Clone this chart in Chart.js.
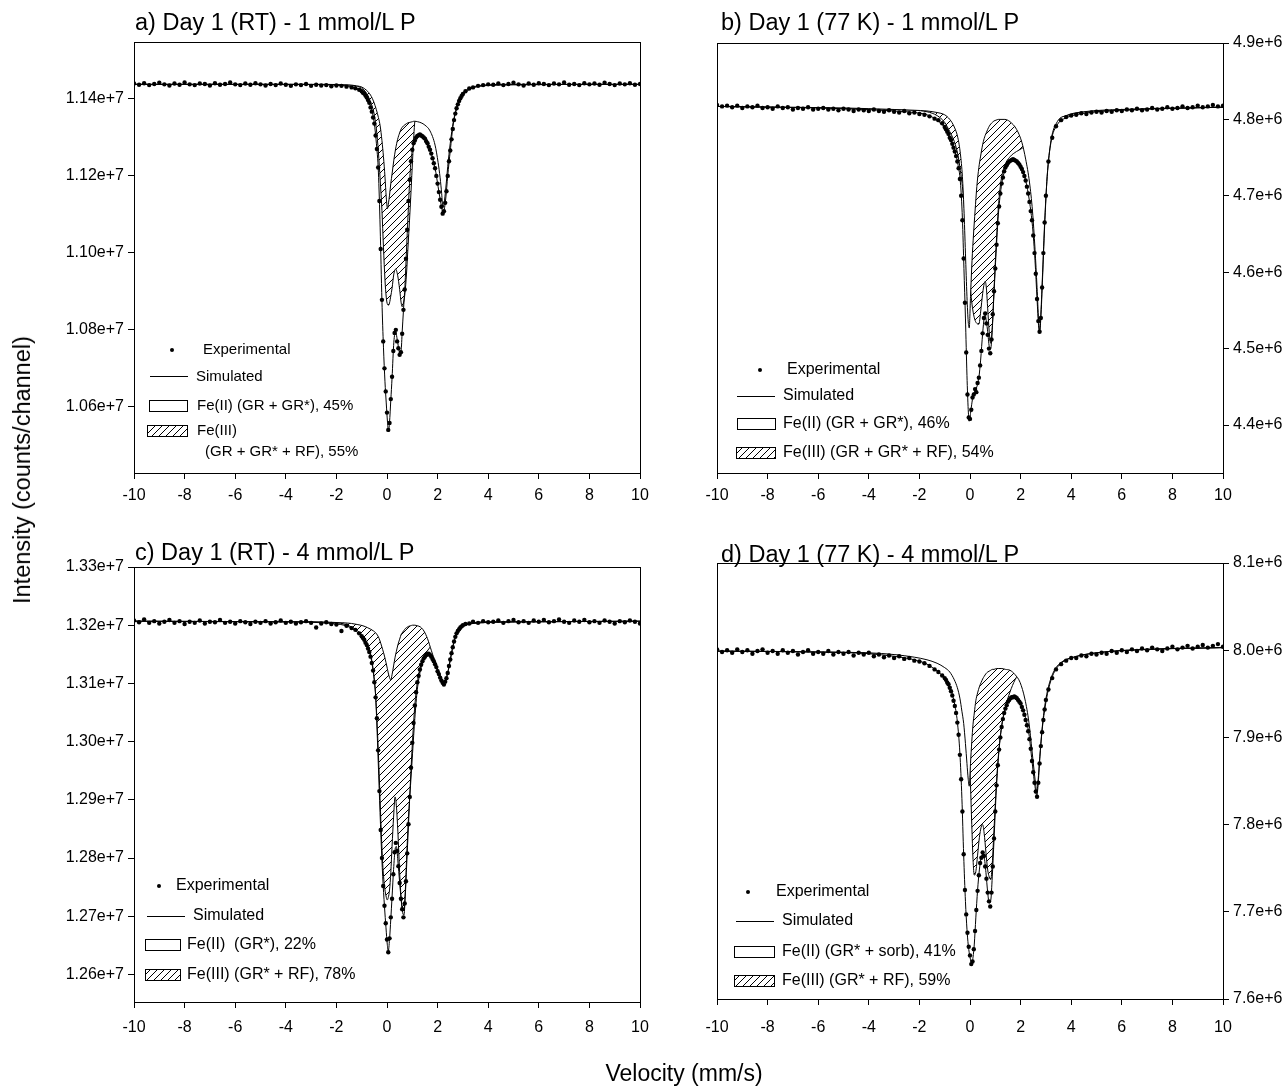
<!DOCTYPE html>
<html><head><meta charset="utf-8">
<script src="https://cdn.jsdelivr.net/npm/chart.js@4.4.1/dist/chart.umd.min.js"></script>
<style>
html,body{margin:0;padding:0;background:#fff;}
#wrap{position:relative;width:1287px;height:1086px;overflow:hidden;font-family:"Liberation Sans",Arial,Helvetica,sans-serif;color:#000;}
canvas{position:absolute;left:0;top:0;}
.t{position:absolute;font-size:23.5px;line-height:22px;white-space:nowrap;}
.yt{position:absolute;font-size:23.5px;line-height:22px;white-space:nowrap;transform:translate(-50%,-50%) rotate(-90deg);}
.xt{position:absolute;font-size:23px;line-height:22px;white-space:nowrap;transform:translate(-50%,-50%);}
</style></head>
<body>
<div id="wrap">
<canvas id="ca" width="1287" height="1086"></canvas>
<canvas id="cb" width="1287" height="1086"></canvas>
<canvas id="cc" width="1287" height="1086"></canvas>
<canvas id="cd" width="1287" height="1086"></canvas>
<div class="t" id="ta" style="left:135px;top:11px"></div>
<div class="t" id="tb" style="left:721px;top:11px"></div>
<div class="t" id="tc" style="left:135px;top:541px"></div>
<div class="t" id="td" style="left:721px;top:543px"></div>
<div class="yt" id="ytitle" style="left:22px;top:470px"></div>
<div class="xt" id="xtitle" style="left:684px;top:1073px"></div>
</div>
<script>
// ---------------- DATA ----------------
const panelTitles = ["a) Day 1 (RT) - 1 mmol/L P", "b) Day 1 (77 K) - 1 mmol/L P", "c) Day 1 (RT) - 4 mmol/L P", "d) Day 1 (77 K) - 4 mmol/L P"];
const yAxisTitle = "Intensity (counts/channel)";
const xAxisTitle = "Velocity (mm/s)";
const velTicks = [-10, -8, -6, -4, -2, 0, 2, 4, 6, 8, 10];
// intensity values are in units of 1e6 counts/channel
const yTicksA = [10.6, 10.8, 11.0, 11.2, 11.4];
const yTicksB = [4.4, 4.5, 4.6, 4.7, 4.8, 4.9];
const yTicksC = [12.6, 12.7, 12.8, 12.9, 13.0, 13.1, 13.2, 13.3];
const yTicksD = [7.6, 7.7, 7.8, 7.9, 8.0, 8.1];

const legendA = ["Experimental", "Simulated", "Fe(II) (GR + GR*), 45%", "Fe(III)", "(GR + GR* + RF), 55%"];
const legendB = ["Experimental", "Simulated", "Fe(II) (GR + GR*), 46%", "Fe(III) (GR + GR* + RF), 54%"];
const legendC = ["Experimental", "Simulated", "Fe(II)  (GR*), 22%", "Fe(III) (GR* + RF), 78%"];
const legendD = ["Experimental", "Simulated", "Fe(II) (GR* + sorb), 41%", "Fe(III) (GR* + RF), 59%"];

// channel velocities of the experimental points (mm/s)
const velocity = [
 -10, -9.8, -9.6, -9.4, -9.2, -9, -8.8, -8.6, -8.4, -8.2,
 -8, -7.8, -7.6, -7.4, -7.2, -7, -6.8, -6.6, -6.4, -6.2,
 -6, -5.8, -5.6, -5.4, -5.2, -5, -4.8, -4.6, -4.4, -4.2,
 -4, -3.8, -3.6, -3.4, -3.2, -3, -2.8, -2.6, -2.4, -2.2,
 -2, -1.8, -1.6, -1.4, -1.25, -1.1,
 -1, -0.95, -0.9, -0.85, -0.8, -0.75, -0.7, -0.65, -0.6, -0.55,
 -0.5, -0.45, -0.4, -0.35, -0.3, -0.25, -0.2, -0.15, -0.1, -0.05,
 0, 0.05, 0.1, 0.15, 0.2, 0.25, 0.3, 0.35, 0.4, 0.45,
 0.5, 0.55, 0.6, 0.65, 0.7, 0.75, 0.8, 0.85, 0.9, 0.95,
 1, 1.05, 1.1, 1.15, 1.2, 1.25, 1.3, 1.35, 1.4, 1.45,
 1.5, 1.55, 1.6, 1.65, 1.7, 1.75, 1.8, 1.85, 1.9, 1.95,
 2, 2.05, 2.1, 2.15, 2.2, 2.25, 2.3, 2.35, 2.4, 2.45,
 2.5, 2.55, 2.6, 2.65, 2.7, 2.75, 2.8, 2.85, 2.9, 2.95,
 3,
 3.1, 3.25, 3.4, 3.6, 3.8, 4,
 4.2, 4.4, 4.6, 4.8, 5, 5.2, 5.4, 5.6, 5.8, 6,
 6.2, 6.4, 6.6, 6.8, 7, 7.2, 7.4, 7.6, 7.8, 8,
 8.2, 8.4, 8.6, 8.8, 9, 9.2, 9.4, 9.6, 9.8, 10
];

const expA = [
 11.440, 11.437, 11.441, 11.436, 11.439, 11.442, 11.438, 11.435, 11.440, 11.437,
 11.443, 11.438, 11.436, 11.440, 11.439, 11.435, 11.441, 11.437, 11.439, 11.443,
 11.438, 11.436, 11.440, 11.437, 11.441, 11.438, 11.435, 11.439, 11.436, 11.440,
 11.437, 11.434, 11.438, 11.436, 11.439, 11.434, 11.437, 11.435, 11.436, 11.433,
 11.435, 11.434, 11.432, 11.430, 11.428, 11.424,
 11.420, 11.416, 11.414, 11.409, 11.404, 11.397, 11.390, 11.378, 11.367, 11.352,
 11.336, 11.305, 11.270, 11.222, 11.135, 11.010, 10.878, 10.770, 10.700, 10.640,
 10.585, 10.540, 10.558, 10.620, 10.678, 10.745, 10.792, 10.800, 10.770, 10.752,
 10.735, 10.742, 10.790, 10.852, 10.905, 10.985, 11.060, 11.135, 11.190, 11.238,
 11.268, 11.285, 11.292, 11.300, 11.304, 11.306, 11.308, 11.305, 11.303, 11.300,
 11.297, 11.290, 11.285, 11.276, 11.268, 11.258, 11.246, 11.233, 11.220, 11.200,
 11.180, 11.158, 11.138, 11.120, 11.102, 11.108, 11.130, 11.160, 11.200, 11.238,
 11.266, 11.295, 11.322, 11.345, 11.362, 11.376, 11.386, 11.395, 11.402, 11.408,
 11.413,
 11.420, 11.427, 11.430, 11.434, 11.436, 11.438,
 11.437, 11.440, 11.436, 11.439, 11.442, 11.438, 11.435, 11.440, 11.437, 11.441,
 11.439, 11.436, 11.440, 11.438, 11.443, 11.437, 11.439, 11.436, 11.441, 11.438,
 11.440, 11.437, 11.442, 11.439, 11.436, 11.440, 11.438, 11.441, 11.437, 11.439
];
const expB = [
 4.819, 4.817, 4.818, 4.816, 4.818, 4.815, 4.817, 4.816, 4.818, 4.815,
 4.816, 4.814, 4.817, 4.815, 4.816, 4.813, 4.815, 4.814, 4.816, 4.813,
 4.814, 4.815, 4.813, 4.814, 4.812, 4.814, 4.813, 4.811, 4.813, 4.812,
 4.811, 4.813, 4.811, 4.810, 4.812, 4.810, 4.809, 4.811, 4.808, 4.809,
 4.807, 4.806, 4.804, 4.801, 4.799, 4.795,
 4.790, 4.787, 4.784, 4.781, 4.776, 4.773, 4.768, 4.763, 4.758, 4.752,
 4.745, 4.736, 4.722, 4.700, 4.668, 4.618, 4.560, 4.495, 4.440, 4.410,
 4.408, 4.420, 4.436, 4.440, 4.447, 4.443, 4.455, 4.462, 4.478, 4.497,
 4.520, 4.540, 4.546, 4.533, 4.518, 4.500, 4.494, 4.512, 4.545, 4.575,
 4.605, 4.636, 4.664, 4.686, 4.703, 4.716, 4.724, 4.732, 4.737, 4.740,
 4.743, 4.745, 4.746, 4.747, 4.748, 4.747, 4.746, 4.745, 4.743, 4.741,
 4.738, 4.735, 4.731, 4.726, 4.720, 4.712, 4.703, 4.692, 4.680, 4.668,
 4.648, 4.625, 4.598, 4.565, 4.536, 4.522, 4.540, 4.580, 4.625, 4.665,
 4.700,
 4.745, 4.776, 4.791, 4.799, 4.803, 4.805,
 4.806, 4.808, 4.807, 4.809, 4.810, 4.809, 4.811, 4.810, 4.812, 4.811,
 4.813, 4.812, 4.814, 4.812, 4.813, 4.815, 4.813, 4.814, 4.816, 4.814,
 4.815, 4.817, 4.815, 4.816, 4.818, 4.816, 4.817, 4.819, 4.817, 4.818
];
const expC = [
 13.208, 13.205, 13.210, 13.204, 13.207, 13.203, 13.206, 13.209, 13.204, 13.207,
 13.202, 13.206, 13.204, 13.208, 13.203, 13.206, 13.205, 13.209, 13.204, 13.206,
 13.203, 13.207, 13.205, 13.202, 13.206, 13.204, 13.207, 13.203, 13.205, 13.208,
 13.204, 13.206, 13.203, 13.205, 13.207, 13.204, 13.196, 13.203, 13.205, 13.202,
 13.201, 13.190, 13.199, 13.195, 13.192, 13.186,
 13.181, 13.178, 13.175, 13.170, 13.166, 13.160, 13.154, 13.146, 13.135, 13.122,
 13.102, 13.076, 13.040, 12.985, 12.915, 12.848, 12.800, 12.752, 12.718, 12.688,
 12.660, 12.638, 12.662, 12.698, 12.730, 12.772, 12.810, 12.826, 12.812, 12.786,
 12.757, 12.730, 12.712, 12.698, 12.722, 12.760, 12.808, 12.858, 12.905, 12.955,
 12.998, 13.032, 13.062, 13.085, 13.102, 13.113, 13.124, 13.132, 13.138, 13.143,
 13.146, 13.149, 13.150, 13.151, 13.149, 13.146, 13.142, 13.138, 13.133, 13.128,
 13.121, 13.116, 13.110, 13.105, 13.101, 13.098, 13.103, 13.109, 13.118, 13.130,
 13.141, 13.152, 13.162, 13.172, 13.180, 13.186, 13.190, 13.193, 13.196, 13.198,
 13.200,
 13.202, 13.203, 13.206, 13.204, 13.207, 13.205,
 13.206, 13.208, 13.204, 13.207, 13.209, 13.205, 13.207, 13.204, 13.208, 13.206,
 13.209, 13.205, 13.207, 13.210, 13.206, 13.204, 13.208, 13.206, 13.209, 13.205,
 13.207, 13.204, 13.208, 13.206, 13.203, 13.207, 13.205, 13.208, 13.206, 13.203
];
const expD = [
 8.001, 7.998, 8.000, 7.997, 8.001, 7.998, 8.000, 7.996, 7.999, 8.001,
 7.997, 7.999, 7.996, 8.000, 7.997, 7.999, 7.995, 7.998, 8.000, 7.996,
 7.998, 7.996, 7.999, 7.995, 7.998, 7.996, 7.998, 7.994, 7.997, 7.995,
 7.997, 7.993, 7.995, 7.992, 7.994, 7.991, 7.993, 7.990, 7.991, 7.988,
 7.987, 7.985, 7.982, 7.978, 7.975, 7.971,
 7.968, 7.966, 7.963, 7.961, 7.957, 7.953, 7.948, 7.942, 7.936, 7.928,
 7.917, 7.903, 7.880, 7.852, 7.815, 7.766, 7.725, 7.697, 7.676, 7.660,
 7.650, 7.640, 7.643, 7.657, 7.678, 7.702, 7.724, 7.742, 7.756, 7.762,
 7.768, 7.764, 7.752, 7.738, 7.722, 7.712, 7.706, 7.722, 7.752, 7.784,
 7.815, 7.845, 7.868, 7.886, 7.900, 7.912, 7.921, 7.928, 7.933, 7.937,
 7.941, 7.943, 7.945, 7.946, 7.946, 7.947, 7.946, 7.945, 7.943, 7.941,
 7.939, 7.935, 7.931, 7.926, 7.920, 7.914, 7.907, 7.898, 7.887, 7.873,
 7.860, 7.848, 7.838, 7.832, 7.848, 7.870, 7.890, 7.906, 7.920, 7.932,
 7.943,
 7.955, 7.968, 7.978, 7.984, 7.988, 7.991,
 7.991, 7.994, 7.993, 7.996, 7.995, 7.997, 7.996, 7.999, 7.997, 8.000,
 7.998, 8.001, 7.999, 8.002, 8.000, 8.003, 8.001, 7.999, 8.002, 8.004,
 8.001, 8.003, 8.005, 8.002, 8.004, 8.006, 8.003, 8.005, 8.007, 8.004
];

// fitted curves: velocity grids and values (simulated total, Fe(II) and Fe(III) sub-spectra)
const curveVelA = [-10, -4, -2.5, -1.8, -1.4, -1.2, -1.0, -0.8, -0.65, -0.52,
 -0.42, -0.34, -0.27, -0.2, -0.14, -0.08, -0.03, 0.02, 0.06, 0.1,
 0.15, 0.2, 0.27, 0.34, 0.42, 0.5, 0.56, 0.6, 0.65, 0.71,
 0.77, 0.83, 0.89, 0.95, 1.01, 1.06, 1.1, 1.2, 1.35, 1.5,
 1.7, 1.9, 2.02, 2.1, 2.16, 2.21, 2.26, 2.32, 2.4, 2.5,
 2.62, 2.78, 3.0, 3.3, 3.8, 5, 10];
const simA = [11.438, 11.438, 11.437, 11.435, 11.432, 11.427, 11.420, 11.406, 11.380, 11.345,
 11.285, 11.210, 11.065, 10.875, 10.755, 10.665, 10.610, 10.560, 10.536, 10.560,
 10.617, 10.675, 10.768, 10.795, 10.768, 10.742, 10.748, 10.795, 10.850, 10.915,
 11.005, 11.095, 11.180, 11.241, 11.270, 11.285, 11.292, 11.305, 11.307, 11.298,
 11.268, 11.220, 11.172, 11.140, 11.118, 11.103, 11.112, 11.140, 11.200, 11.265,
 11.335, 11.380, 11.414, 11.428, 11.436, 11.438, 11.438];
const fe2A = [11.438, 11.438, 11.438, 11.437, 11.436, 11.434, 11.431, 11.422, 11.410, 11.392,
 11.372, 11.352, 11.330, 11.292, 11.250, 11.198, 11.145, 11.115, 11.130, 11.150,
 11.180, 11.205, 11.241, 11.270, 11.295, 11.312, 11.322, 11.326, 11.330, 11.333,
 11.336, 11.338, 11.339, 11.340, 11.341, 11.342, 11.342, 11.341, 11.338, 11.332,
 11.317, 11.280, 11.235, 11.195, 11.155, 11.118, 11.130, 11.165, 11.224, 11.285,
 11.340, 11.383, 11.410, 11.426, 11.434, 11.437, 11.438];
const fe3A = [11.438, 11.438, 11.438, 11.437, 11.436, 11.434, 11.428, 11.414, 11.392, 11.365,
 11.322, 11.262, 11.190, 11.110, 11.015, 10.930, 10.885, 10.866, 10.864, 10.870,
 10.888, 10.908, 10.945, 10.958, 10.942, 10.905, 10.870, 10.860, 10.870, 10.895,
 10.945, 11.015, 11.085, 11.160, 11.241, 11.305, 11.342, 11.365, 11.380, 11.390,
 11.398, 11.405, 11.408, 11.410, 11.412, 11.413, 11.414, 11.416, 11.418, 11.420,
 11.423, 11.426, 11.429, 11.432, 11.435, 11.437, 11.438];

const curveVelB = [-10, -5, -3, -2.2, -1.7, -1.3, -1.0, -0.8, -0.62, -0.48,
 -0.38, -0.3, -0.24, -0.18, -0.12, -0.07, -0.03, 0.02, 0.08, 0.14,
 0.2, 0.27, 0.35, 0.42, 0.5, 0.56, 0.6, 0.65, 0.7, 0.76,
 0.82, 0.88, 0.95, 1.03, 1.12, 1.22, 1.38, 1.58, 1.84, 2.05,
 2.2, 2.35, 2.47, 2.57, 2.65, 2.71, 2.75, 2.8, 2.87, 2.95,
 3.05, 3.2, 3.45, 3.8, 4.5, 6, 10];
const simB = [4.817, 4.814, 4.811, 4.809, 4.806, 4.799, 4.789, 4.777, 4.761, 4.742,
 4.718, 4.670, 4.605, 4.540, 4.465, 4.420, 4.405, 4.415, 4.430, 4.441,
 4.445, 4.450, 4.462, 4.485, 4.520, 4.540, 4.544, 4.535, 4.522, 4.503,
 4.500, 4.528, 4.573, 4.625, 4.675, 4.708, 4.734, 4.745, 4.745, 4.736,
 4.720, 4.693, 4.660, 4.615, 4.565, 4.530, 4.522, 4.540, 4.594, 4.660,
 4.725, 4.770, 4.793, 4.802, 4.808, 4.812, 4.816];
const fe2B = [4.817, 4.815, 4.813, 4.812, 4.811, 4.809, 4.806, 4.800, 4.790, 4.776,
 4.755, 4.725, 4.683, 4.625, 4.568, 4.535, 4.527, 4.568, 4.615, 4.650,
 4.680, 4.712, 4.737, 4.752, 4.767, 4.775, 4.779, 4.783, 4.787, 4.791,
 4.794, 4.796, 4.798, 4.799, 4.800, 4.800, 4.800, 4.797, 4.787, 4.770,
 4.748, 4.718, 4.680, 4.630, 4.580, 4.538, 4.522, 4.545, 4.600, 4.665,
 4.725, 4.772, 4.797, 4.805, 4.810, 4.813, 4.816];
const fe3B = [4.817, 4.815, 4.813, 4.812, 4.810, 4.805, 4.796, 4.784, 4.771, 4.754,
 4.733, 4.712, 4.692, 4.668, 4.642, 4.618, 4.600, 4.578, 4.558, 4.545,
 4.537, 4.533, 4.532, 4.548, 4.572, 4.585, 4.588, 4.578, 4.552, 4.522,
 4.507, 4.525, 4.578, 4.632, 4.684, 4.718, 4.740, 4.751, 4.758, 4.762,
 4.766, 4.774, 4.779, 4.783, 4.786, 4.788, 4.789, 4.790, 4.792, 4.794,
 4.796, 4.799, 4.802, 4.805, 4.810, 4.813, 4.816];

const curveVelC = [-10, -5, -3, -2.2, -1.7, -1.4, -1.15, -0.95, -0.78, -0.64,
 -0.53, -0.45, -0.38, -0.31, -0.24, -0.17, -0.1, -0.04, 0.01, 0.05,
 0.1, 0.15, 0.2, 0.26, 0.32, 0.37, 0.43, 0.5, 0.56, 0.62,
 0.67, 0.72, 0.78, 0.85, 0.93, 1.01, 1.1, 1.2, 1.32, 1.46,
 1.6, 1.75, 1.9, 2.03, 2.14, 2.21, 2.27, 2.34, 2.42, 2.52,
 2.64, 2.8, 3.0, 3.4, 4.2, 6, 10];
const simC = [13.207, 13.206, 13.205, 13.203, 13.200, 13.195, 13.187, 13.178, 13.165, 13.145,
 13.115, 13.078, 13.005, 12.920, 12.838, 12.768, 12.717, 12.680, 12.652, 12.640,
 12.660, 12.695, 12.733, 12.780, 12.815, 12.820, 12.795, 12.758, 12.728, 12.706,
 12.702, 12.733, 12.790, 12.858, 12.935, 13.002, 13.062, 13.102, 13.128, 13.143,
 13.150, 13.147, 13.133, 13.118, 13.106, 13.101, 13.102, 13.108, 13.122, 13.145,
 13.170, 13.190, 13.199, 13.204, 13.206, 13.206, 13.207];
const fe2C = [13.207, 13.206, 13.206, 13.205, 13.204, 13.203, 13.201, 13.199, 13.196, 13.193,
 13.190, 13.187, 13.183, 13.177, 13.168, 13.158, 13.147, 13.136, 13.126, 13.118,
 13.110, 13.106, 13.115, 13.130, 13.145, 13.155, 13.166, 13.176, 13.184, 13.188,
 13.191, 13.194, 13.196, 13.198, 13.199, 13.200, 13.200, 13.199, 13.197, 13.190,
 13.177, 13.157, 13.137, 13.122, 13.110, 13.102, 13.102, 13.109, 13.122, 13.145,
 13.170, 13.189, 13.198, 13.203, 13.205, 13.206, 13.207];
const fe3C = [13.207, 13.206, 13.206, 13.205, 13.202, 13.197, 13.190, 13.180, 13.168, 13.148,
 13.118, 13.080, 13.020, 12.945, 12.860, 12.790, 12.752, 12.735, 12.728, 12.732,
 12.745, 12.775, 12.820, 12.870, 12.905, 12.890, 12.845, 12.775, 12.730, 12.712,
 12.710, 12.740, 12.805, 12.870, 12.925, 12.980, 13.040, 13.090, 13.122, 13.145,
 13.156, 13.165, 13.174, 13.180, 13.184, 13.186, 13.188, 13.190, 13.192, 13.194,
 13.196, 13.198, 13.200, 13.203, 13.205, 13.206, 13.207];

const curveVelD = [-10, -6, -4, -3, -2.2, -1.7, -1.3, -1.0, -0.8, -0.62,
 -0.5, -0.4, -0.32, -0.25, -0.18, -0.12, -0.07, -0.03, 0.02, 0.07,
 0.12, 0.17, 0.23, 0.3, 0.37, 0.44, 0.5, 0.56, 0.63, 0.7,
 0.76, 0.82, 0.88, 0.95, 1.04, 1.14, 1.26, 1.4, 1.58, 1.78,
 1.98, 2.17, 2.33, 2.45, 2.54, 2.6, 2.64, 2.69, 2.76, 2.85,
 2.96, 3.1, 3.3, 3.6, 4.1, 5, 7, 10];
const simD = [7.999, 7.998, 7.996, 7.993, 7.989, 7.984, 7.976, 7.968, 7.958, 7.940,
 7.918, 7.882, 7.830, 7.765, 7.712, 7.680, 7.662, 7.653, 7.645, 7.640,
 7.648, 7.663, 7.693, 7.725, 7.748, 7.762, 7.766, 7.763, 7.745, 7.722,
 7.710, 7.713, 7.740, 7.783, 7.840, 7.883, 7.914, 7.933, 7.944, 7.946,
 7.940, 7.925, 7.904, 7.873, 7.850, 7.838, 7.833, 7.845, 7.876, 7.908,
 7.933, 7.955, 7.973, 7.985, 7.992, 7.997, 8.001, 8.003];
const fe2D = [7.999, 7.998, 7.997, 7.995, 7.992, 7.989, 7.985, 7.980, 7.975, 7.966,
 7.957, 7.945, 7.930, 7.916, 7.893, 7.870, 7.852, 7.844, 7.870, 7.895,
 7.915, 7.928, 7.942, 7.951, 7.958, 7.963, 7.967, 7.970, 7.973, 7.975,
 7.976, 7.977, 7.978, 7.978, 7.979, 7.979, 7.979, 7.978, 7.977, 7.972,
 7.963, 7.944, 7.917, 7.885, 7.860, 7.845, 7.837, 7.850, 7.878, 7.910,
 7.937, 7.958, 7.975, 7.986, 7.992, 7.997, 8.001, 8.003];
const fe3D = [7.999, 7.998, 7.997, 7.996, 7.993, 7.991, 7.988, 7.984, 7.979, 7.972,
 7.966, 7.960, 7.953, 7.945, 7.934, 7.920, 7.903, 7.880, 7.845, 7.800,
 7.760, 7.742, 7.746, 7.765, 7.785, 7.797, 7.800, 7.790, 7.768, 7.748,
 7.740, 7.737, 7.755, 7.795, 7.845, 7.885, 7.915, 7.935, 7.952, 7.966,
 7.975, 7.980, 7.983, 7.985, 7.986, 7.987, 7.987, 7.988, 7.989, 7.990,
 7.991, 7.992, 7.993, 7.995, 7.996, 7.998, 8.001, 8.003];

// ---------------- RENDERING ----------------
const FONT = '"Liberation Sans", Arial, Helvetica, sans-serif';
Chart.defaults.font.family = FONT;
Chart.defaults.color = '#000';

document.getElementById('ta').textContent = panelTitles[0];
document.getElementById('tb').textContent = panelTitles[1];
document.getElementById('tc').textContent = panelTitles[2];
document.getElementById('td').textContent = panelTitles[3];
document.getElementById('ytitle').textContent = yAxisTitle;
document.getElementById('xtitle').textContent = xAxisTitle;

function makeHatch() {
  const c = document.createElement('canvas');
  c.width = 7; c.height = 7;
  const g = c.getContext('2d');
  g.strokeStyle = '#000'; g.lineWidth = 1;
  g.beginPath();
  g.moveTo(-1, 8); g.lineTo(8, -1);
  g.moveTo(-1, 1); g.lineTo(1, -1);
  g.moveTo(6, 8); g.lineTo(8, 6);
  g.stroke();
  return g.createPattern(c, 'repeat');
}
const hatch = makeHatch();

const framePlugin = {
  id: 'frame',
  afterDatasetsDraw(chart) {
    const ctx = chart.ctx, a = chart.chartArea;
    ctx.save();
    ctx.strokeStyle = '#000'; ctx.lineWidth = 1;
    const l = Math.round(a.left), t = Math.round(a.top), r = Math.round(a.right), b = Math.round(a.bottom);
    ctx.strokeRect(l + 0.5, t + 0.5, r - l, b - t);
    ctx.restore();
  }
};

function legendPlugin(items, fontSize) {
  return {
    id: 'panelLegend',
    afterDraw(chart) {
      const ctx = chart.ctx;
      ctx.save();
      ctx.font = fontSize + 'px ' + FONT;
      ctx.textBaseline = 'middle'; ctx.textAlign = 'left';
      ctx.strokeStyle = '#000'; ctx.lineWidth = 1;
      items.forEach(it => {
        const s = it.sym;
        ctx.fillStyle = '#000';
        if (it.kind === 'dot') {
          ctx.beginPath(); ctx.arc(s[0], s[1], 2, 0, Math.PI * 2); ctx.fill();
        } else if (it.kind === 'line') {
          ctx.beginPath(); ctx.moveTo(s[0], s[1] + 0.5); ctx.lineTo(s[2], s[1] + 0.5); ctx.stroke();
        } else {
          ctx.fillStyle = it.kind === 'hatch' ? hatch : '#fff';
          ctx.fillRect(s[0], s[1], s[2] - s[0], s[3] - s[1]);
          ctx.strokeRect(s[0] + 0.5, s[1] + 0.5, s[2] - s[0], s[3] - s[1]);
          ctx.fillStyle = '#000';
        }
        it.text.forEach(tx => ctx.fillText(tx[0], tx[1], tx[2]));
      });
      ctx.restore();
    }
  };
}

function pts(xs, ys) {
  const n = Math.min(xs.length, ys.length);
  const out = [];
  for (let i = 0; i < n; i++) out.push({ x: xs[i], y: ys[i] });
  return out;
}

const XAXIS_H = 42;
function makePanel(id, cfg) {
  const lineBase = { borderColor: '#000', borderWidth: 1, pointRadius: 0, pointHoverRadius: 0, cubicInterpolationMode: 'monotone' };
  return new Chart(document.getElementById(id), {
    type: 'line',
    data: {
      datasets: [
        { label: 'Experimental', data: pts(velocity, cfg.exp), showLine: false, pointRadius: 2.2, pointHoverRadius: 2.2,
          pointBackgroundColor: '#000', pointBorderWidth: 0, borderColor: '#000', backgroundColor: '#000' },
        Object.assign({ label: 'Simulated', data: pts(cfg.vel, cfg.sim), fill: false }, lineBase),
        Object.assign({ label: 'Fe(II)', data: pts(cfg.vel, cfg.fe2), fill: 'end', backgroundColor: '#fff' }, lineBase),
        Object.assign({ label: 'Fe(III)', data: pts(cfg.vel, cfg.fe3), fill: 'end', backgroundColor: hatch }, lineBase)
      ]
    },
    options: {
      responsive: false, animation: false, events: [],
      layout: { padding: cfg.pad },
      plugins: { legend: { display: false }, tooltip: { enabled: false }, filler: { drawTime: 'beforeDatasetDraw', propagate: false } },
      scales: {
        x: {
          type: 'linear', min: -10, max: 10,
          afterBuildTicks: s => { s.ticks = velTicks.map(v => ({ value: v })); },
          afterFit: s => { s.height = XAXIS_H; },
          grid: { drawOnChartArea: false, drawTicks: true, tickLength: 6, color: '#000', tickColor: '#000', lineWidth: 1 },
          border: { display: false },
          ticks: { color: '#000', font: { size: 16, family: FONT }, padding: cfg.xpad, maxRotation: 0, autoSkip: false, callback: v => String(v) }
        },
        y: {
          type: 'linear', position: cfg.ypos, min: cfg.ymin, max: cfg.ymax,
          afterBuildTicks: s => { s.ticks = cfg.yticks.map(v => ({ value: v })); },
          afterFit: s => { s.width = cfg.yw; },
          grid: { drawOnChartArea: false, drawTicks: true, tickLength: 6, color: '#000', tickColor: '#000', lineWidth: 1 },
          border: { display: false },
          ticks: { color: '#000', font: { size: 16, family: FONT }, padding: 4, autoSkip: false,
                   callback: v => (v * 1e6).toExponential(cfg.digits) }
        }
      }
    },
    plugins: [framePlugin, legendPlugin(cfg.legend, cfg.lfont)]
  });
}

const W = 1287, H = 1086;
makePanel('ca', {
  exp: expA, vel: curveVelA, sim: simA, fe2: fe2A, fe3: fe3A,
  ymin: 10.428, ymax: 11.548, yticks: yTicksA, digits: 2, ypos: 'left', yw: 80, xpad: 7, lfont: 15,
  pad: { left: 134 - 80, top: 42, right: W - 640, bottom: H - 473 - XAXIS_H },
  legend: [
    { kind: 'dot', sym: [172, 350], text: [[legendA[0], 203, 350]] },
    { kind: 'line', sym: [150, 376, 188], text: [[legendA[1], 196, 377]] },
    { kind: 'box', sym: [149, 400, 187, 411], text: [[legendA[2], 197, 406]] },
    { kind: 'hatch', sym: [147, 425, 187, 436], text: [[legendA[3], 197, 431], [legendA[4], 205, 452]] }
  ]
});
makePanel('cb', {
  exp: expB, vel: curveVelB, sim: simB, fe2: fe2B, fe3: fe3B,
  ymin: 4.3372, ymax: 4.9, yticks: yTicksB, digits: 1, ypos: 'right', yw: 64, xpad: 7, lfont: 16,
  pad: { left: 717, top: 43, right: W - 1223 - 64, bottom: H - 473 - XAXIS_H },
  legend: [
    { kind: 'dot', sym: [760, 370], text: [[legendB[0], 787, 370]] },
    { kind: 'line', sym: [737, 396, 775], text: [[legendB[1], 783, 396]] },
    { kind: 'box', sym: [737, 418, 775, 429], text: [[legendB[2], 783, 424]] },
    { kind: 'hatch', sym: [736, 447, 775, 458], text: [[legendB[3], 783, 453]] }
  ]
});
makePanel('cc', {
  exp: expC, vel: curveVelC, sim: simC, fe2: fe2C, fe3: fe3C,
  ymin: 12.5526, ymax: 13.3, yticks: yTicksC, digits: 2, ypos: 'left', yw: 80, xpad: 10, lfont: 16,
  pad: { left: 134 - 80, top: 567, right: W - 640, bottom: H - 1002 - XAXIS_H },
  legend: [
    { kind: 'dot', sym: [159, 886], text: [[legendC[0], 176, 886]] },
    { kind: 'line', sym: [147, 916, 185], text: [[legendC[1], 193, 916]] },
    { kind: 'box', sym: [145, 939, 180, 950], text: [[legendC[2], 187, 945]] },
    { kind: 'hatch', sym: [145, 969, 180, 980], text: [[legendC[3], 187, 975]] }
  ]
});
makePanel('cd', {
  exp: expD, vel: curveVelD, sim: simD, fe2: fe2D, fe3: fe3D,
  ymin: 7.6, ymax: 8.1, yticks: yTicksD, digits: 1, ypos: 'right', yw: 64, xpad: 13, lfont: 16,
  pad: { left: 717, top: 563, right: W - 1223 - 64, bottom: H - 999 - XAXIS_H },
  legend: [
    { kind: 'dot', sym: [748, 892], text: [[legendD[0], 776, 892]] },
    { kind: 'line', sym: [736, 921, 774], text: [[legendD[1], 782, 921]] },
    { kind: 'box', sym: [734, 946, 774, 957], text: [[legendD[2], 782, 952]] },
    { kind: 'hatch', sym: [734, 975, 774, 986], text: [[legendD[3], 782, 981]] }
  ]
});
</script>
</body></html>
